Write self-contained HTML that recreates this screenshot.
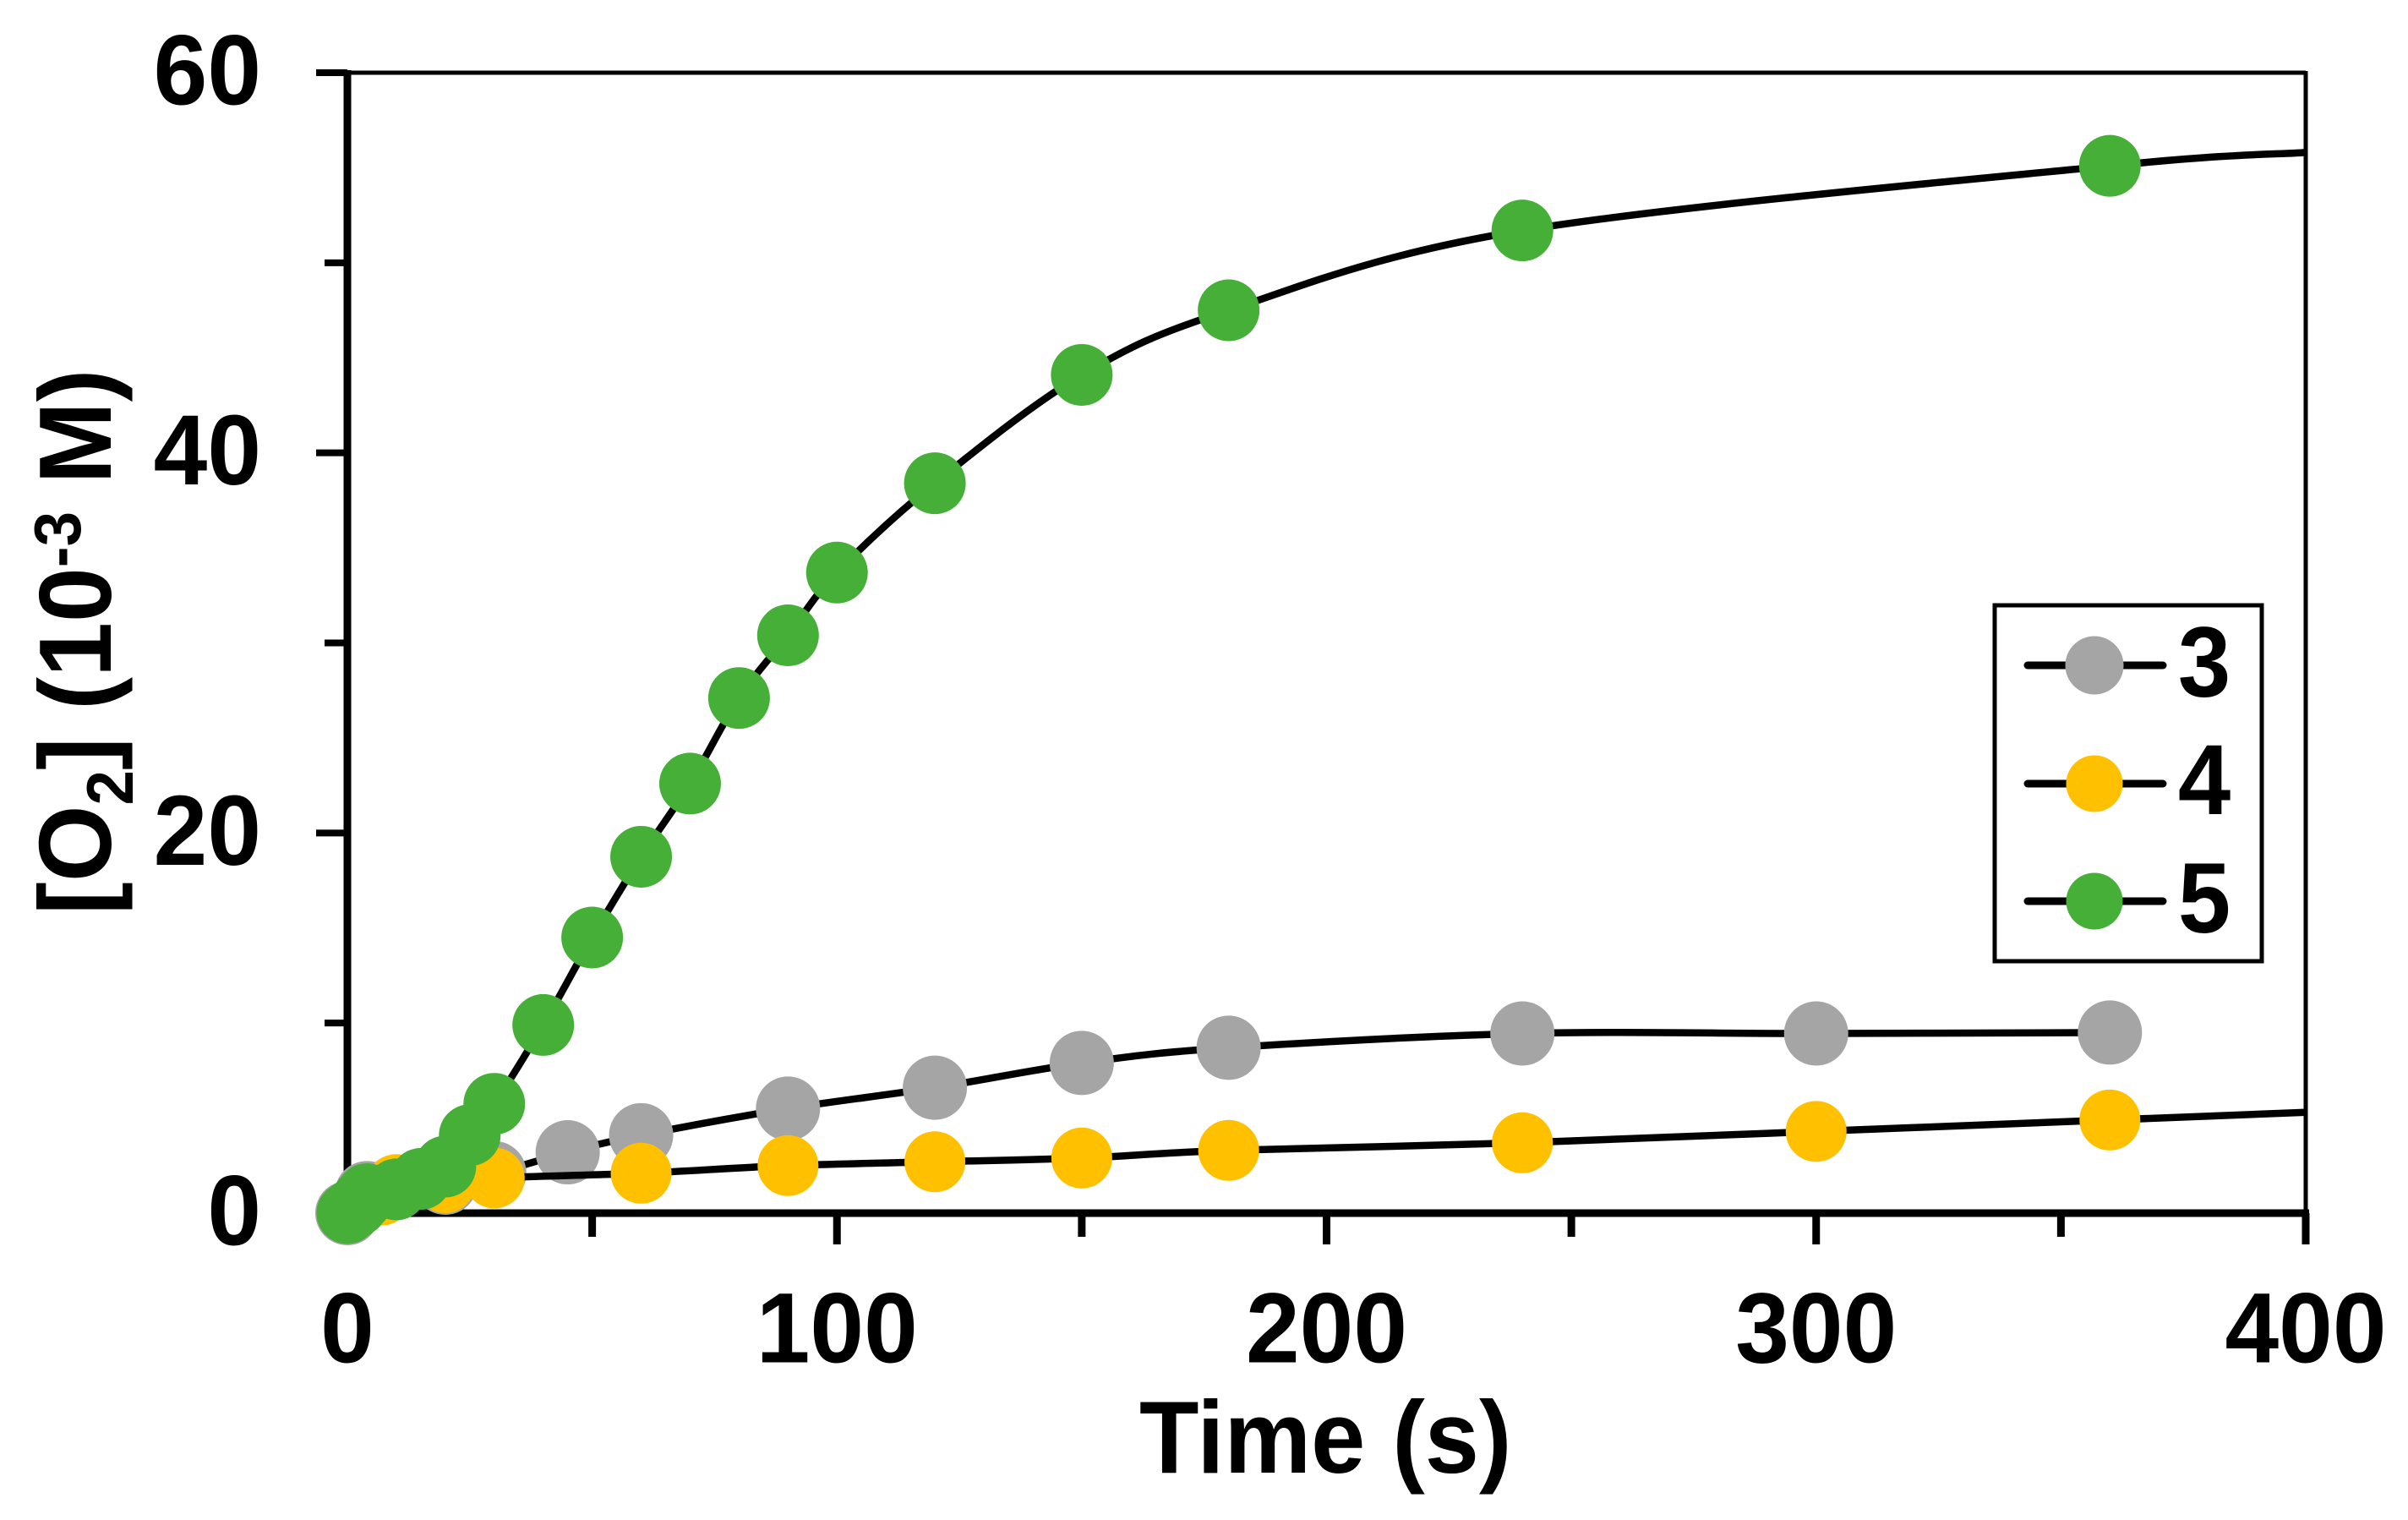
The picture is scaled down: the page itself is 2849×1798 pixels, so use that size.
<!DOCTYPE html>
<html lang="en">
<head>
<meta charset="utf-8">
<title>Oxygen evolution over time</title>
<style>
html,body{margin:0;padding:0;background:#fff;}
svg{display:block;}
text{font-family:"Liberation Sans",Arial,sans-serif;font-weight:700;fill:#000;}
</style>
</head>
<body>
<svg id="chart" xmlns="http://www.w3.org/2000/svg" width="2849" height="1798" viewBox="0 0 2849 1798">
  <rect x="0" y="0" width="2849" height="1798" fill="#fff"/>
  <g id="axes"></g>
  <g id="series"></g>
  <text transform="translate(1348,1742) scale(0.946,1)" font-size="122">Time (s)</text>
  <text transform="translate(131,1082) rotate(-90) scale(0.956,1)" font-size="122">[O<tspan font-size="78" dy="26">2</tspan><tspan dy="-26">] (10</tspan><tspan font-size="78" dy="-36">-3</tspan><tspan dy="36"> M)</tspan></text>
  <g>
    <rect x="2360" y="716" width="316" height="421" fill="#fff" stroke="#000" stroke-width="5"/>
    <g>
      <line x1="2399" y1="787" x2="2559" y2="787" stroke="#000" stroke-width="9" stroke-linecap="round"/>
      <circle cx="2478" cy="787" r="34.5" fill="#A5A5A5"/>
      <text transform="translate(2608,823.5) scale(0.95,1)" font-size="118" text-anchor="middle">3</text>
    </g>
    <g>
      <line x1="2399" y1="927" x2="2559" y2="927" stroke="#000" stroke-width="9" stroke-linecap="round"/>
      <circle cx="2478" cy="927" r="33.5" fill="#FFC000"/>
      <text transform="translate(2608,963) scale(0.95,1)" font-size="118" text-anchor="middle">4</text>
    </g>
    <g>
      <line x1="2399" y1="1066" x2="2559" y2="1066" stroke="#000" stroke-width="9" stroke-linecap="round"/>
      <circle cx="2478" cy="1066" r="33.5" fill="#46AF38"/>
      <text transform="translate(2608,1103) scale(0.95,1)" font-size="118" text-anchor="middle">5</text>
    </g>
  </g>
</svg>
<script>
var xMajorTicks = [0, 100, 200, 300, 400];
var xMinorTicks = [50, 150, 250, 350];
var yMajorTicks = [0, 20, 40, 60];
var yMinorTicks = [10, 30, 50];

var grayTimes = [0, 4, 10, 20, 30, 45, 60, 90, 120, 150, 180, 240, 300, 360];
var grayValues = [0, 1.05, 1.4, 1.6, 2.1, 3.2, 4.1, 5.5, 6.6, 7.9, 8.7, 9.45, 9.45, 9.5];

var yellowTimes = [0, 7, 10, 20, 30, 60, 90, 120, 150, 180, 240, 300, 360];
var yellowValues = [0, 0.95, 1.5, 1.6, 1.85, 2.1, 2.5, 2.7, 2.9, 3.3, 3.7, 4.3, 4.9];
var yellowLineEndTime = 400;
var yellowLineEndValue = 5.3;

var greenTimes = [0, 1, 2, 3, 4, 10, 15, 20, 25, 30, 40, 50, 60, 70, 80, 90, 100, 120, 150, 180, 240, 360];
var greenValues = [0, 0.2, 0.4, 0.7, 1.0, 1.25, 1.8, 2.45, 4.1, 5.75, 9.9, 14.5, 18.75, 22.6, 27.1, 30.4, 33.7, 38.4, 44.1, 47.5, 51.7, 55.1];
var greenLineEndTime = 400;
var greenLineEndValue = 55.8;

var X0 = 411, X1 = 2728, Y0 = 1435, Y1 = 86;
var XMAX = 400, YMAX = 60;
var NS = 'http://www.w3.org/2000/svg';

function xScale(t) { return X0 + (X1 - X0) * t / XMAX; }
function yScale(v) { return Y0 - (Y0 - Y1) * v / YMAX; }

function make(tag, attrs, parent) {
  var el = document.createElementNS(NS, tag);
  for (var k in attrs) { el.setAttribute(k, attrs[k]); }
  parent.appendChild(el);
  return el;
}

function smoothPath(ts, vs) {
  var p = ts.map(function (t, i) { return [xScale(t), yScale(vs[i])]; });
  var d = 'M' + p[0][0].toFixed(1) + ' ' + p[0][1].toFixed(1);
  for (var i = 0; i < p.length - 1; i++) {
    var a = p[Math.max(i - 1, 0)], b = p[i], c = p[i + 1], e = p[Math.min(i + 2, p.length - 1)];
    var c1x = b[0] + (c[0] - a[0]) / 6, c1y = b[1] + (c[1] - a[1]) / 6;
    var c2x = c[0] - (e[0] - b[0]) / 6, c2y = c[1] - (e[1] - b[1]) / 6;
    d += ' C' + c1x.toFixed(1) + ' ' + c1y.toFixed(1) + ' ' + c2x.toFixed(1) + ' ' + c2y.toFixed(1) + ' ' + c[0].toFixed(1) + ' ' + c[1].toFixed(1);
  }
  return d;
}

var axes = document.getElementById('axes');
var seriesRoot = document.getElementById('series');

var topBorder = make('line', { x1: X0, y1: Y1, x2: X1, y2: Y1, stroke: '#000', 'stroke-width': 5 }, axes);



var rightBorder = make('line', { x1: X1, y1: Y1 - 2, x2: X1, y2: Y0, stroke: '#000', 'stroke-width': 5 }, axes);



var yAxisLine = make('line', { x1: X0, y1: Y1 - 3, x2: X0, y2: Y0 + 4, stroke: '#000', 'stroke-width': 9 }, axes);



var xAxisLine = make('line', { x1: X0, y1: Y0, x2: X1 + 4, y2: Y0, stroke: '#000', 'stroke-width': 9 }, axes);



xMajorTicks.forEach(function (t) {
  var tick = make('line', { x1: xScale(t), y1: Y0, x2: xScale(t), y2: 1472, stroke: '#000', 'stroke-width': 9 }, axes);
  
  
  var label = make('text', { transform: 'translate(' + xScale(t) + ',1611.5) scale(0.97,1)', 'font-size': 118, 'text-anchor': 'middle' }, axes);
  
  
  label.textContent = String(t);
});

xMinorTicks.forEach(function (t) {
  var tick = make('line', { x1: xScale(t), y1: Y0, x2: xScale(t), y2: 1463, stroke: '#000', 'stroke-width': 9 }, axes);
  
  
});

yMajorTicks.forEach(function (v) {
  var tick = make('line', { x1: 374, y1: yScale(v), x2: X0, y2: yScale(v), stroke: '#000', 'stroke-width': 8 }, axes);
  
  
  var label = make('text', { transform: 'translate(309,' + (yScale(v) + 37.5) + ') scale(0.97,1)', 'font-size': 118, 'text-anchor': 'end' }, axes);
  
  
  label.textContent = String(v);
});

yMinorTicks.forEach(function (v) {
  var tick = make('line', { x1: 384, y1: yScale(v), x2: X0, y2: yScale(v), stroke: '#000', 'stroke-width': 8 }, axes);
  
  
});

function drawSeries(name, times, values, lineTimes, lineValues, color, radius) {
  var group = make('g', {}, seriesRoot);
  
  
  var line = make('path', { d: smoothPath(lineTimes, lineValues), fill: 'none', stroke: '#000', 'stroke-width': 8.5 }, group);
  
  
  times.forEach(function (t, i) {
    var dot = make('circle', { cx: xScale(t), cy: yScale(values[i]), r: radius, fill: color }, group);
    
    
  });
}

drawSeries('3', grayTimes, grayValues, grayTimes, grayValues, '#A5A5A5', 38);
drawSeries('4', yellowTimes, yellowValues, yellowTimes.concat([yellowLineEndTime]), yellowValues.concat([yellowLineEndValue]), '#FFC000', 36);
drawSeries('5', greenTimes, greenValues, greenTimes.concat([greenLineEndTime]), greenValues.concat([greenLineEndValue]), '#46AF38', 36.5);
</script>
</body>
</html>
